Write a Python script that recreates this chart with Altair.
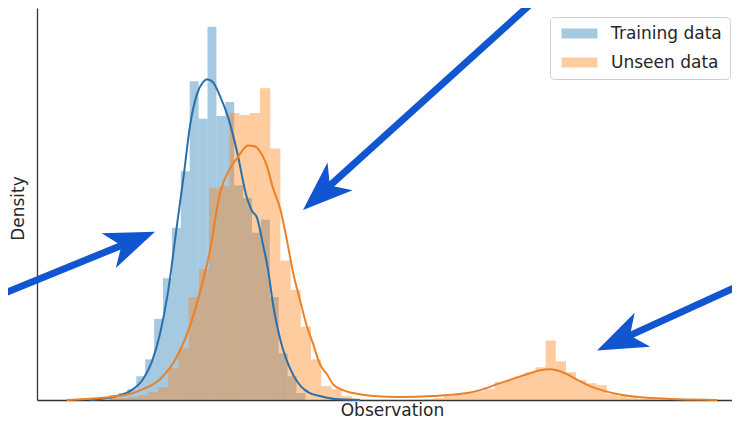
import math
import altair as alt
import pandas as pd

# ---------------- data ----------------
# Training data histogram: first bin edge, bin width, bar heights (density units)
train_start = 0.726
train_width = 0.089
train_heights = [0.05, 0.07, 0.11, 0.24, 0.41, 0.82, 1.23, 1.74, 2.31, 3.22, 2.84,
                 3.77, 2.87, 3.01, 2.17, 2.04, 1.69, 1.82, 1.04, 0.47, 0.24, 0.07]

# Unseen data histogram
unseen_start = 0.292
unseen_width = 0.102
unseen_heights = [0.005, 0.005, 0.01, 0.01, 0.02, 0.02, 0.03, 0.05, 0.08, 0.13,
                  0.32, 0.52, 1.04, 1.32, 2.14, 2.16, 2.90, 2.88, 2.90, 3.15,
                  2.54, 1.41, 1.11, 0.74, 0.41, 0.14, 0.11, 0.04, 0.015, 0.005,
                  0.0, 0.0, 0.0, 0.0, 0.0, 0.01, 0.02, 0.04, 0.05, 0.07,
                  0.09, 0.11, 0.18, 0.20, 0.24, 0.28, 0.33, 0.60, 0.39, 0.28,
                  0.20, 0.17, 0.15, 0.06, 0.04, 0.02, 0.01, 0.01, 0.005]

# KDE curves
train_kde_x = [0.53, 0.63, 0.80, 0.93, 1.06, 1.15, 1.23, 1.31, 1.40, 1.47, 1.53, 1.60,
               1.66, 1.70, 1.76, 1.83, 1.91, 2.00, 2.10, 2.15, 2.20, 2.26, 2.31, 2.36,
               2.46, 2.53, 2.60, 2.68, 2.73, 2.83, 2.98, 3.23]
train_kde_y = [0.00, 0.01, 0.04, 0.09, 0.21, 0.39, 0.67, 1.09, 1.77, 2.29, 2.77, 3.09,
               3.21, 3.24, 3.21, 3.07, 2.86, 2.51, 2.04, 1.91, 1.84, 1.57, 1.32, 0.97,
               0.51, 0.32, 0.19, 0.10, 0.07, 0.04, 0.01, 0.00]

unseen_kde_x = [0.30, 0.63, 0.96, 1.06, 1.23, 1.40, 1.56, 1.63, 1.73, 1.83, 1.93, 2.00,
                2.11, 2.18, 2.23, 2.30, 2.36, 2.43, 2.50, 2.56, 2.63, 2.70, 2.76, 2.83,
                2.90, 2.96, 3.06, 3.16, 3.36, 3.63, 3.96, 4.30, 4.43, 4.63, 4.78, 4.90,
                5.03, 5.13, 5.23, 5.30, 5.43, 5.53, 5.68, 5.80, 6.13, 6.80]
unseen_kde_y = [0.00, 0.02, 0.07, 0.11, 0.21, 0.44, 0.84, 1.09, 1.51, 2.09, 2.34, 2.44,
                2.57, 2.56, 2.51, 2.36, 2.14, 1.94, 1.61, 1.29, 1.01, 0.74, 0.57, 0.36,
                0.26, 0.16, 0.10, 0.07, 0.04, 0.03, 0.04, 0.07, 0.10, 0.17, 0.22, 0.26,
                0.30, 0.31, 0.29, 0.26, 0.19, 0.14, 0.09, 0.06, 0.02, 0.00]

series_names = ["Training data", "Unseen data"]
bar_colors = ["#1f77b4", "#ff7f0e"]
line_colors = ["#2a70aa", "#ec8026"]

# annotation arrows: start point and tip point (data units)
arrow_x0 = [4.98, -0.37, 7.03]
arrow_y0 = [4.04, 1.06, 1.16]
arrow_xt = [2.66, 1.18, 5.60]
arrow_yt = [1.92, 1.70, 0.50]
arrow_color = "#1155d0"

# ---------------- layout ----------------
W, H = 695, 392
XMAX, YMAX = 6.95, 3.96
FONT = "DejaVu Sans"
TXT = "#262626"

xs = alt.Scale(domain=[0, XMAX], nice=False, zero=False)
ys = alt.Scale(domain=[0, YMAX], nice=False, zero=False)

rows = []
for name, start, width, hs in [(series_names[0], train_start, train_width, train_heights),
                               (series_names[1], unseen_start, unseen_width, unseen_heights)]:
    for i, h in enumerate(hs):
        rows.append({"series": name, "x0": start + i * width,
                     "x1": start + (i + 1) * width, "h": h, "base": 0.0})
bars_df = pd.DataFrame(rows)

kde_df = pd.concat([
    pd.DataFrame({"series": series_names[0], "x": train_kde_x, "y": train_kde_y,
                  "o": range(len(train_kde_x))}),
    pd.DataFrame({"series": series_names[1], "x": unseen_kde_x, "y": unseen_kde_y,
                  "o": range(len(unseen_kde_x))}),
])

# arrows: compute head centre / angle in screen space
kx, ky = W / XMAX, H / YMAX
r = 25.0
arr = []
for x0, y0, xt, yt in zip(arrow_x0, arrow_y0, arrow_xt, arrow_yt):
    dx = (xt - x0) * kx
    dy = -(yt - y0) * ky
    L = math.hypot(dx, dy)
    ux, uy = dx / L, dy / L
    ang = math.degrees(math.atan2(uy, ux)) % 360
    xc = xt - r * ux / kx
    yc = yt + r * uy / ky
    arr.append({"x0": x0, "y0": y0, "xc": xc, "yc": yc, "angle": ang})
arrows_df = pd.DataFrame(arr)

bars = alt.Chart(bars_df).mark_rect(opacity=0.4, strokeWidth=0).encode(
    x=alt.X("x0:Q", scale=xs, title="Observation",
            axis=alt.Axis(labels=False, ticks=False, grid=False, domainColor="#333333",
                          domainWidth=1.3, titleFont=FONT, titleFontSize=17,
                          titleFontWeight="normal", titleColor=TXT,
                          titleX=355, titleY=10, titleBaseline="middle",
                          titleAlign="center")),
    x2="x1:Q",
    y=alt.Y("h:Q", scale=ys, title="Density",
            axis=alt.Axis(labels=False, ticks=False, grid=False, domainColor="#333333",
                          domainWidth=1.3, titleFont=FONT, titleFontSize=17,
                          titleFontWeight="normal", titleColor=TXT,
                          titleX=-19, titleY=200, titleAngle=270,
                          titleBaseline="middle", titleAlign="center")),
    y2="base:Q",
    color=alt.Color("series:N",
                    scale=alt.Scale(domain=series_names, range=bar_colors),
                    legend=alt.Legend(orient="none", legendX=513, legendY=9, title=None,
                                      symbolType="M-3.6,-1H3.6V1H-3.6Z", symbolSize=100,
                                      symbolOffset=13,
                                      symbolOpacity=0.4, symbolStrokeWidth=0,
                                      labelFont=FONT, labelFontSize=17, labelColor=TXT,
                                      labelOffset=23, padding=8, rowPadding=11,
                                      strokeColor="#d0d0d0", fillColor="white",
                                      cornerRadius=4)),
    order=alt.Order("series:N"),
)

lines = alt.Chart(kde_df).mark_line(strokeWidth=2, interpolate="monotone").encode(
    x=alt.X("x:Q", scale=xs),
    y=alt.Y("y:Q", scale=ys),
    color=alt.Color("series:N", scale=alt.Scale(domain=series_names, range=line_colors),
                    legend=None),
    order="o:Q",
)

shafts = alt.Chart(arrows_df).mark_rule(strokeWidth=7, color=arrow_color, strokeCap="butt").encode(
    x=alt.X("x0:Q", scale=xs), y=alt.Y("y0:Q", scale=ys),
    x2="xc:Q", y2="yc:Q",
)

heads = alt.Chart(arrows_df).mark_point(
    shape="M1,0L-1,-0.75L-0.45,0L-1,0.75Z", filled=True, size=2500, opacity=1,
    color=arrow_color, strokeWidth=0,
).encode(
    x=alt.X("xc:Q", scale=xs), y=alt.Y("yc:Q", scale=ys),
    angle=alt.Angle("angle:Q", scale=None),
)

chart = alt.layer(bars, lines, shafts, heads).resolve_scale(color="independent").properties(
    width=W, height=H,
    autosize=alt.AutoSizeParams(type="none"),
    padding={"left": 29, "top": 0, "right": 0, "bottom": 20},
    background="white",
).configure_view(stroke=None)

chart.save("out.html", embed_options={"renderer": "svg", "actions": False})
